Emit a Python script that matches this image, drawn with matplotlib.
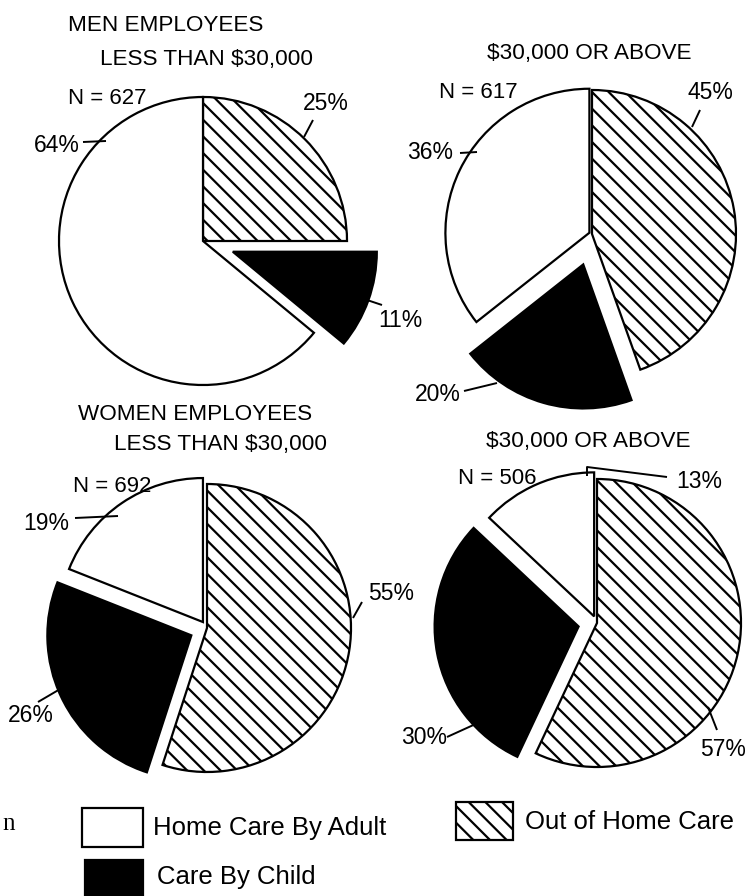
import matplotlib
matplotlib.use("Agg")
import matplotlib.pyplot as plt
from matplotlib.patches import Rectangle

# ---------------- data ----------------
categories = ["Out of Home Care", "Care By Child", "Home Care By Adult"]
men_low = [25, 11, 64]
men_high = [45, 20, 36]
women_low = [55, 26, 19]
women_high = [57, 30, 13]
sample_sizes = [627, 617, 692, 506]
group_titles = ["MEN EMPLOYEES", "WOMEN EMPLOYEES"]
income_titles = ["LESS THAN $30,000", "$30,000 OR ABOVE"]

# ---------------- style ----------------
plt.rcParams["font.family"] = ["Liberation Sans", "DejaVu Sans"]
plt.rcParams["hatch.linewidth"] = 1.6
faces = ["white", "black", "white"]
hatches = ["\\\\", "", ""]

W, H = 748, 896
R = 144


def Y(py):
    return H - py


fig = plt.figure(figsize=(W / 100, H / 100), dpi=100)
ax = fig.add_axes([0, 0, 1, 1])

panels = [
    dict(values=men_low, center=(203, 241), explode=[0, 0.22, 0],
         n_pos=(107, 98),
         pct_pos=[(326, 103), (400, 320), (57, 145)],
         leaders=[[(313, 120), (304, 137)], [(358, 297), (382, 305)],
                  [(83, 142), (106, 141)]]),
    dict(values=men_high, center=(592, 234), explode=[0, 0.22, 0.02],
         n_pos=(478, 92),
         pct_pos=[(710, 92), (438, 394), (430, 152)],
         leaders=[[(700, 110), (692, 127)], [(464, 391), (497, 383)],
                  [(460, 153), (477, 152)]]),
    dict(values=women_low, center=(207, 628), explode=[0, 0.12, 0.05],
         n_pos=(112, 486),
         pct_pos=[(391, 594), (31, 716), (46, 523)],
         leaders=[[(362, 602), (353, 618)], [(38, 702), (67, 685)],
                  [(75, 518), (118, 516)]]),
    dict(values=women_high, center=(597, 623), explode=[0, 0.13, 0.05],
         n_pos=(497, 478),
         pct_pos=[(723, 749), (424, 738), (699, 481)],
         leaders=[[(708, 707), (717, 730)], [(447, 737), (480, 722)],
                  [(587, 476), (587, 467), (667, 477)]]),
]

for p, n in zip(panels, sample_sizes):
    cx, cy = p["center"]
    ax.pie(p["values"], center=(cx, Y(cy)), radius=R,
           explode=[e * R for e in p["explode"]],
           colors=faces, hatch=hatches, startangle=90, counterclock=False,
           frame=True,
           wedgeprops=dict(edgecolor="black", linewidth=1.6))
    ax.text(p["n_pos"][0], Y(p["n_pos"][1]), f"N = {n}", ha="center",
            va="center", fontsize=16)
    for v, (tx, ty) in zip(p["values"], p["pct_pos"]):
        ax.text(tx, Y(ty), f"{v}%", ha="center", va="center", fontsize=16.5)
    for seg in p["leaders"]:
        ax.plot([s[0] for s in seg], [Y(s[1]) for s in seg], color="black",
                lw=1.4, solid_capstyle="butt")

# titles
title_kw = dict(ha="center", va="center", fontsize=16.2)
ax.text(166, Y(25), group_titles[0], **title_kw)
ax.text(207, Y(59), income_titles[0], **title_kw)
ax.text(589, Y(53), income_titles[1], **title_kw)
ax.text(195, Y(414), group_titles[1], **title_kw)
ax.text(221, Y(444), income_titles[0], **title_kw)
ax.text(588, Y(441), income_titles[1], **title_kw)

# legend
legend_boxes = {
    "Home Care By Adult": ((82, 808, 61, 39), (153, 828)),
    "Care By Child": ((85, 860, 58, 40), (157, 877)),
    "Out of Home Care": ((456, 802, 57, 38), (525, 822)),
}
for cat, face, hat in zip(categories, faces, hatches):
    (bx, by, bw, bh), (tx, ty) = legend_boxes[cat]
    ax.add_patch(Rectangle((bx, Y(by + bh)), bw, bh, facecolor=face,
                           edgecolor="black", hatch=hat, linewidth=1.6))
    ax.text(tx, Y(ty), cat, ha="left", va="center", fontsize=18.5)

# scanned character at left margin
ax.text(2, Y(824), "n", ha="left", va="center", fontsize=18,
        family=["Liberation Serif", "DejaVu Serif"])

ax.set_xlim(0, W)
ax.set_ylim(0, H)
ax.set_aspect("equal")
ax.axis("off")
fig.savefig("out.png", dpi=100, facecolor="white")
